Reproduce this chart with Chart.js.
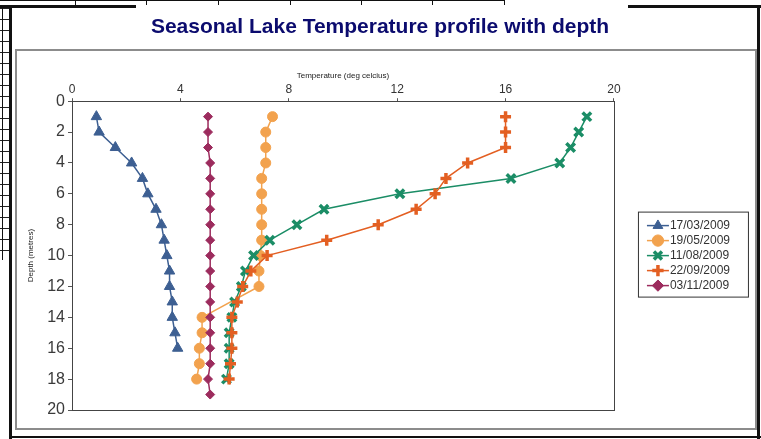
<!DOCTYPE html>
<html>
<head>
<meta charset="utf-8">
<title>Seasonal Lake Temperature profile with depth</title>
<script src="https://cdn.jsdelivr.net/npm/chart.js@4.4.0/dist/chart.umd.min.js"></script>
<style>
  body { margin: 0; width: 761px; height: 439px; position: relative; overflow: hidden; background: #fff; }
  .abs { position: absolute; }
  .blk { position: absolute; background: #111; }
  #rows { left: 0; width: 9px; height: 252px; top: 8px;
          background: repeating-linear-gradient(to bottom, #222 0, #222 1px, transparent 1px, transparent 11px); }
  #frame { left: 15px; top: 49px; width: 738px; height: 377px; border: 2px solid #8c8c8c; }
  #lakeChart { position: absolute; left: 0; top: 0; }
</style>
</head>
<body>
<!-- spreadsheet bits behind the chart object -->
<div class="abs" id="rows"></div>
<div class="blk" style="left:2px;top:8px;width:1px;height:252px"></div>
<div class="blk" style="left:0;top:0;width:505px;height:1px"></div>
<div class="blk" style="left:75px;top:0;width:1px;height:5px"></div>
<div class="blk" style="left:146px;top:0;width:1px;height:5px"></div>
<div class="blk" style="left:218px;top:0;width:1px;height:5px"></div>
<div class="blk" style="left:290px;top:0;width:1px;height:5px"></div>
<div class="blk" style="left:361px;top:0;width:1px;height:5px"></div>
<div class="blk" style="left:432px;top:0;width:1px;height:5px"></div>
<div class="blk" style="left:504px;top:0;width:1px;height:5px"></div>
<div class="blk" style="left:0;top:5px;width:136px;height:3px"></div>
<div class="blk" style="left:628px;top:5px;width:133px;height:3px"></div>
<div class="blk" style="left:9px;top:5px;width:3px;height:434px"></div>
<div class="blk" style="left:757px;top:5px;width:3px;height:434px"></div>
<div class="blk" style="left:9px;top:436px;width:752px;height:2px"></div>
<div class="abs" id="frame"></div>

<canvas id="lakeChart" width="761" height="439"></canvas>

<script>
// Series labels (sampling dates)
const seriesLabels = ['17/03/2009', '19/05/2009', '11/08/2009', '22/09/2009', '03/11/2009'];

// Depths (metres) and temperatures (deg C) per sampling date
const depthMar = [1, 2, 3, 4, 5, 6, 7, 8, 9, 10, 11, 12, 13, 14, 15, 16];
const tempMar = [0.9, 1.0, 1.6, 2.2, 2.6, 2.8, 3.1, 3.3, 3.4, 3.5, 3.6, 3.6, 3.7, 3.7, 3.8, 3.9];

const depthMay = [1, 2, 3, 4, 5, 6, 7, 8, 9, 10, 11, 12, 14, 15, 16, 17, 18];
const tempMay = [7.4, 7.15, 7.15, 7.15, 7.0, 7.0, 7.0, 7.0, 7.0, 6.95, 6.9, 6.9, 4.8, 4.8, 4.7, 4.7, 4.6];

const depthAug = [1, 2, 3, 4, 5, 6, 7, 8, 9, 10, 11, 12, 13, 14, 15, 16, 17, 18];
const tempAug = [19.0, 18.7, 18.4, 18.0, 16.2, 12.1, 9.3, 8.3, 7.3, 6.7, 6.4, 6.25, 6.0, 5.9, 5.8, 5.8, 5.8, 5.7];

const depthSep = [1, 2, 3, 4, 5, 6, 7, 8, 9, 10, 11, 12, 13, 14, 15, 16, 17, 18];
const tempSep = [16.0, 16.0, 16.0, 14.6, 13.8, 13.4, 12.7, 11.3, 9.4, 7.2, 6.6, 6.3, 6.1, 5.9, 5.9, 5.9, 5.85, 5.8];

const depthNov = [1, 2, 3, 4, 5, 6, 7, 8, 9, 10, 11, 12, 13, 14, 15, 16, 17, 18, 19];
const tempNov = [5.02, 5.02, 5.02, 5.1, 5.1, 5.1, 5.1, 5.1, 5.1, 5.1, 5.1, 5.1, 5.1, 5.1, 5.1, 5.1, 5.1, 5.02, 5.1];

// Axis ticks
const tempTicks = [0, 4, 8, 12, 16, 20];
const depthTicks = [0, 2, 4, 6, 8, 10, 12, 14, 16, 18, 20];

function toPoints(temps, depths) {
    return temps.map((t, i) => ({ x: t, y: depths[i] }));
}

// Draws the line through each legend marker, the legend box and the plot frame
const excelLook = {
    id: 'excelLook',
    beforeDraw(chart) {
        const ctx = chart.ctx;
        const hb = chart.legend.legendHitBoxes;
        if (hb && hb.length) {
            const first = hb[0];
            const last = hb[hb.length - 1];
            ctx.save();
            ctx.strokeStyle = '#333';
            ctx.lineWidth = 1;
            ctx.strokeRect(first.left - 13.5, first.top - 7.5, 110, last.top + last.height - first.top + 13);
            hb.forEach((box, i) => {
                const ds = chart.data.datasets[i];
                const cx = box.left + 6;
                const cy = box.top + box.height / 2;
                ctx.strokeStyle = ds.borderColor;
                ctx.lineWidth = 1.5;
                ctx.beginPath();
                ctx.moveTo(cx - 11, cy);
                ctx.lineTo(cx + 11, cy);
                ctx.stroke();
            });
            ctx.restore();
        }
    },
    beforeDatasetsDraw(chart) {
        const { ctx, chartArea: a } = chart;
        ctx.save();
        ctx.strokeStyle = '#444';
        ctx.lineWidth = 1;
        ctx.strokeRect(Math.round(a.left) + 0.5, Math.round(a.top) + 0.5, Math.round(a.right - a.left), Math.round(a.bottom - a.top));
        ctx.restore();
    }
};

const ctx = document.getElementById('lakeChart').getContext('2d');

new Chart(ctx, {
    type: 'line',
    data: {
        datasets: [
            {
                label: seriesLabels[0],
                data: toPoints(tempMar, depthMar),
                borderColor: '#3d5f92',
                backgroundColor: '#3d5f92',
                pointBackgroundColor: '#3d5f92',
                pointStyle: 'triangle',
                pointRadius: 6,
                pointBorderWidth: 1,
                borderWidth: 1.5,
                order: 5
            },
            {
                label: seriesLabels[1],
                data: toPoints(tempMay, depthMay),
                borderColor: '#f2a24e',
                backgroundColor: '#f2a24e',
                pointBackgroundColor: '#f2a24e',
                pointStyle: 'circle',
                pointRadius: 5,
                pointBorderWidth: 1,
                borderWidth: 1.5,
                order: 4
            },
            {
                label: seriesLabels[2],
                data: toPoints(tempAug, depthAug),
                borderColor: '#1b8d66',
                backgroundColor: '#1b8d66',
                pointBackgroundColor: '#1b8d66',
                pointStyle: 'crossRot',
                pointRadius: 6,
                pointBorderWidth: 3.5,
                borderWidth: 1.5,
                order: 3
            },
            {
                label: seriesLabels[3],
                data: toPoints(tempSep, depthSep),
                borderColor: '#e35f22',
                backgroundColor: '#e35f22',
                pointBackgroundColor: '#e35f22',
                pointStyle: 'cross',
                pointRadius: 5.5,
                pointBorderWidth: 3.5,
                borderWidth: 1.5,
                order: 2
            },
            {
                label: seriesLabels[4],
                data: toPoints(tempNov, depthNov),
                borderColor: '#9c2b5d',
                backgroundColor: '#9c2b5d',
                pointBackgroundColor: '#9c2b5d',
                pointStyle: 'rectRot',
                pointRadius: 4.5,
                pointBorderWidth: 1,
                borderWidth: 1.5,
                order: 1
            }
        ]
    },
    options: {
        responsive: false,
        animation: false,
        layout: { padding: { left: 20, right: 21, top: 0, bottom: 29 } },
        plugins: {
            title: {
                display: true,
                text: 'Seasonal Lake Temperature profile with depth',
                color: '#0b0b6e',
                font: { family: '"Liberation Sans", Arial, sans-serif', size: 21, weight: 'bold' },
                padding: { top: 15, bottom: 8 }
            },
            legend: {
                position: 'right',
                fullSize: false,
                labels: {
                    usePointStyle: true,
                    boxWidth: 12,
                    boxHeight: 8,
                    padding: 3,
                    color: '#333',
                    font: { family: '"Liberation Sans", Arial, sans-serif', size: 12 },
                    sort: (a, b) => a.datasetIndex - b.datasetIndex,
                    generateLabels(chart) {
                        const items = Chart.defaults.plugins.legend.labels.generateLabels(chart);
                        items.forEach(it => {
                            const ds = chart.data.datasets[it.datasetIndex];
                            it.lineWidth = ds.pointBorderWidth;
                        });
                        return items;
                    }
                }
            },
            tooltip: { enabled: false }
        },
        scales: {
            x: {
                type: 'linear',
                position: 'top',
                min: tempTicks[0],
                max: tempTicks[tempTicks.length - 1],
                afterBuildTicks: s => { s.ticks = tempTicks.map(v => ({ value: v })); },
                afterFit: s => { s.height = 53; },
                ticks: {
                    color: '#333',
                    padding: 1,
                    font: { family: '"Liberation Sans", Arial, sans-serif', size: 12 }
                },
                grid: { drawOnChartArea: false, tickLength: 3, color: '#555' },
                border: { color: '#444' },
                title: {
                    display: true,
                    text: 'Temperature (deg celcius)',
                    color: '#222',
                    padding: { top: 23, bottom: 0 },
                    font: { family: '"Liberation Sans", Arial, sans-serif', size: 8 }
                }
            },
            y: {
                type: 'linear',
                reverse: true,
                min: depthTicks[0],
                max: depthTicks[depthTicks.length - 1],
                afterBuildTicks: s => { s.ticks = depthTicks.map(v => ({ value: v })); },
                afterFit: s => { s.width = 52; },
                ticks: {
                    color: '#3a3a3a',
                    padding: 3,
                    font: { family: '"Liberation Sans", Arial, sans-serif', size: 16 }
                },
                grid: { drawOnChartArea: false, tickLength: 4, color: '#555' },
                border: { color: '#444' },
                title: {
                    display: true,
                    text: 'Depth (metres)',
                    color: '#222',
                    padding: { top: 6, bottom: 0 },
                    font: { family: '"Liberation Sans", Arial, sans-serif', size: 8 }
                }
            },
            gap: {
                type: 'linear',
                position: 'right',
                afterFit: s => { s.width = 35; },
                ticks: { display: false },
                grid: { display: false },
                border: { display: false }
            }
        }
    },
    plugins: [excelLook]
});
</script>
</body>
</html>
